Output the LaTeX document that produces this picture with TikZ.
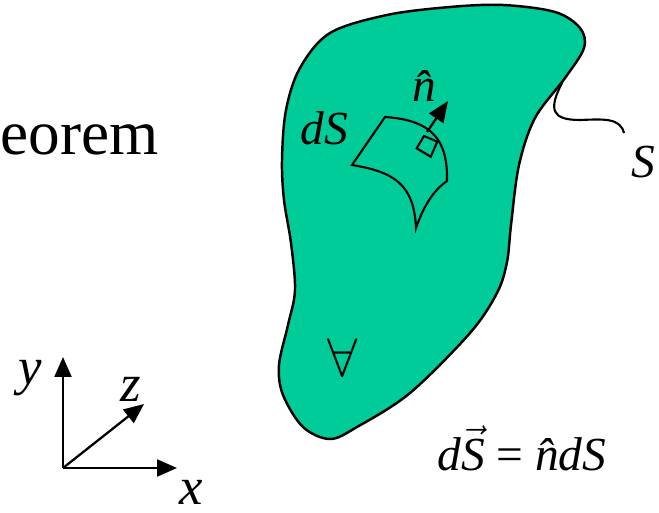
\RequirePackage{fix-cm}
\documentclass[tikz,border=0pt]{standalone}
\usepackage{fontspec}
\setmainfont{Liberation Serif}
\usetikzlibrary{arrows.meta}
\definecolor{blobgreen}{RGB}{0,204,153}
\tikzset{
  lbl/.style={inner sep=0pt, font=\fontsize{27}{30}\selectfont\itshape},
  axlbl/.style={inner sep=0pt, font=\fontsize{30}{34}\selectfont\itshape},
  axis/.style={line width=1.3pt, -{Triangle[length=0.4cm,width=0.34cm]}},
  outline/.style={line width=1.4pt},
  thinline/.style={line width=1.2pt},
}
\begin{document}
\begin{tikzpicture}[x=0.02cm,y=-0.02cm]
\useasboundingbox (0,0) rectangle (659,513);
% volume
\draw[outline, fill=blobgreen] plot[smooth cycle, tension=0.55] coordinates {
 (282,160) (286,110) (300,68) (330,33) (387,15) (450,7) (503,5) (555,12) (580,28) (584,48)
 (565,78) (535,118) (519,165) (511,225) (507,262) (497,293) (470,333)
 (410,393) (357,427) (330,439) (303,427) (283,395) (279,365) (288,325)
 (295,290) (291,243) (284,200)};
% surface tail
\coordinate (S0) at (562,83);
\node[lbl, anchor=base west] (Slab) at (631,178) {S};
\coordinate (S1) at (624,133);
\draw[thinline] (S0) .. controls (548,110) and (552,120) .. (580,120)
  .. controls (605,119) and (620,118) .. (S1);
% surface patch
\draw[thinline] (385,117) -- (352,165)
  .. controls (395,172) and (414,185) .. (416,228)
  .. controls (424,205) and (434,190) .. (447,181)
  .. controls (448,140) and (432,120) .. cycle;
% right angle marker
\draw[thinline] (416.7,148.3) -- (424,136) -- (437.3,141.7) -- (430.7,156.7) -- cycle;
% normal
\coordinate (N0) at (427,132);
\coordinate (N1) at (448,101);
\draw[line width=1.3pt, -{Triangle[length=0.42cm,width=0.34cm]}] (N0) -- (N1);
\node[lbl, anchor=base] (nhat) at (424,102) {\^{n}};
\node[lbl, anchor=base west] (dS) at (300,145) {dS};
% volume symbol
\node[inner sep=0pt, font=\fontsize{31}{34}\selectfont] (vol) at (343,358) {$\forall$};
% clipped title
\node[inner sep=0pt, anchor=base west, font=\fontsize{36}{40}\selectfont] (title) at (0,155) {eorem};
% axes
\coordinate (O) at (63,468);
\coordinate (X) at (177,468);
\coordinate (Y) at (63,357);
\coordinate (Z) at (144,404);
\draw[axis] (O) -- (X);
\draw[axis] (O) -- (Y);
\draw[axis] (O) -- (Z);
\node[axlbl] (xl) at (191,492) {x};
\node[axlbl] (yl) at (30,378) {y};
\node[axlbl] (zl) at (131,389) {z};
% equation
\node[lbl, anchor=base west] (eq) at (437,470) {d$\vec{\mbox{\itshape S}}$ {\upshape =} \^{n}dS};
\end{tikzpicture}
\end{document}
